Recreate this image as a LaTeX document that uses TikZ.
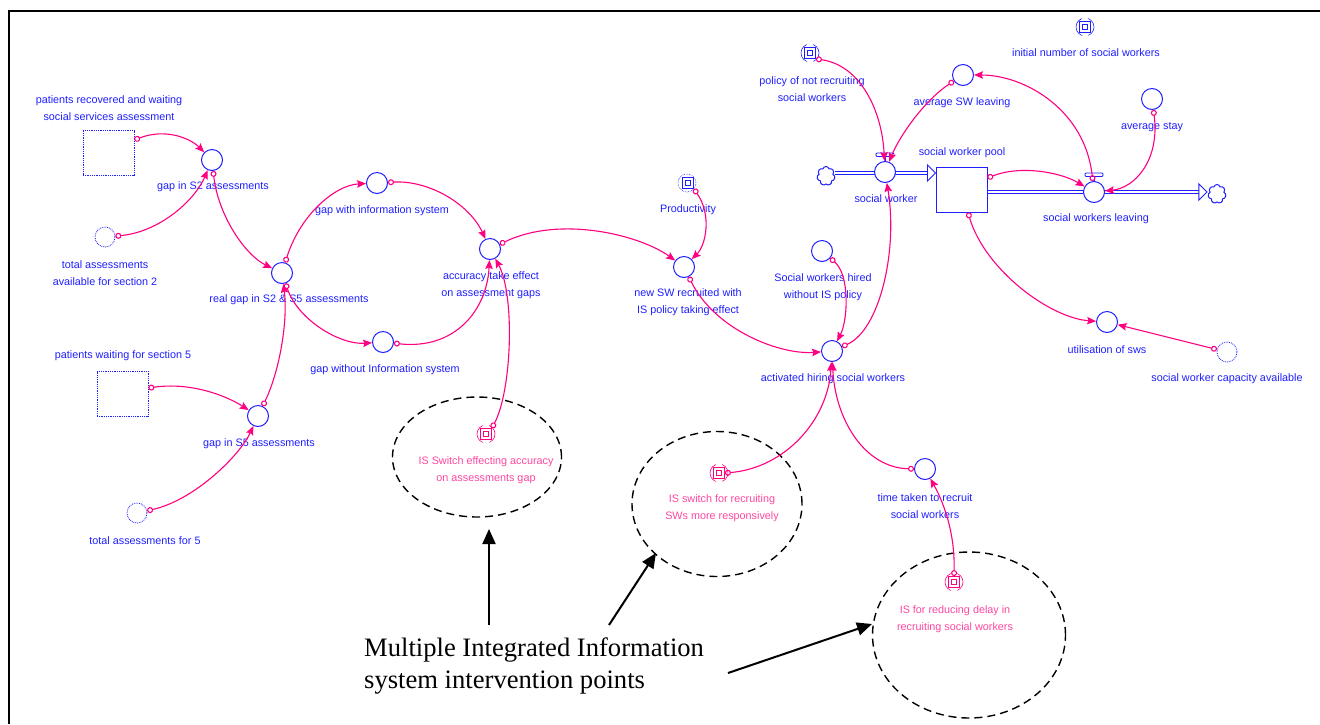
\documentclass[tikz,border=0pt]{standalone}
\usepackage{fontspec}
\setmainfont{Liberation Serif}
\newfontfamily\arialf{Liberation Sans}
\usetikzlibrary{arrows.meta,shapes.geometric,shapes.symbols,calc}
\definecolor{vblue}{RGB}{30,30,255}
\definecolor{vpink}{RGB}{255,0,128}
\definecolor{vpinktext}{RGB}{255,70,160}
\begin{document}
\begin{tikzpicture}[x=1pt,y=-1pt,
 aux/.style={circle,draw=vblue,line width=1pt,minimum size=21pt,inner sep=0pt,fill=white},
 ghostc/.style={circle,draw=vblue,densely dotted,line width=0.8pt,minimum size=20pt,inner sep=0pt},
 ghostr/.style={rectangle,draw=vblue,densely dotted,line width=0.8pt,inner sep=0pt},
 stockbox/.style={rectangle,draw=vblue,line width=1pt,inner sep=0pt,minimum width=51pt,minimum height=45pt,fill=white},
 lbl/.style={text=vblue,font=\arialf\fontsize{10.8}{17}\selectfont,align=center,inner sep=0pt},
 plbl/.style={lbl,text=vpinktext},
 conn/.style={draw=vpink,line width=1.1pt,arrows={Circle[open,length=6pt,width=6pt]-Stealth[length=9pt,width=7.5pt,inset=1.5pt]}},
 icon/.style={rectangle,draw=#1,line width=0.9pt,minimum size=11pt,inner sep=0pt,fill=white,
   path picture={\draw[#1,line width=0.7pt] ([shift={(-2.5pt,-2.5pt)}]path picture bounding box.center) rectangle ([shift={(2.5pt,2.5pt)}]path picture bounding box.center);}},
 iconring/.style={circle,draw=#1,line width=0.6pt,minimum size=18pt,inner sep=0pt,dash pattern=on 22pt off 6.27pt,dash phase=11pt},
 pipe/.style={draw=vblue,double=white,double distance=2.2pt,line width=0.9pt},
 cloudn/.style={cloud,cloud puffs=7,aspect=1,draw=vblue,line width=1pt,minimum width=18pt,minimum height=19pt,inner sep=0pt,fill=white},
 isring/.style={ellipse,draw=black,line width=1.4pt,dash pattern=on 8pt off 5pt,inner sep=0pt},
 bigarrow/.style={draw=black,line width=2pt,arrows={-Triangle[length=15pt,width=13pt]}}
]
\useasboundingbox (0,0) rectangle (1320,724);
\draw[line width=2pt] (8.5,724) -- (8.5,10.5) -- (1320,10.5);

% ---------- dashed intervention rings ----------
\node[isring,minimum width=169pt,minimum height=120pt] (ringA) at (477,457) {};
\node[isring,minimum width=170pt,minimum height=145pt] (ringB) at (717,504) {};
\node[isring,minimum width=193pt,minimum height=166pt] (ringC) at (969,635) {};

% ---------- left part ----------
\node[ghostr,minimum width=51pt,minimum height=45pt] (prA) at (108.5,153) {};
\node[lbl] (lprA) at (109,108.5) {patients recovered and waiting\\social services assessment};
\node[aux] (gS2) at (212,160) {};
\node[lbl] (lgS2) at (213,187) {gap in S2 assessments};
\node[ghostc] (totAv2) at (105,237) {};
\node[lbl] (ltotAv2) at (105,273.5) {total assessments\\available for section 2};
\node[aux] (realgap) at (282,273) {};
\node[lbl] (lrealgap) at (289,300) {real gap in S2 \& S5 assessments};
\node[aux] (gapWith) at (377,183) {};
\node[lbl] (lgapWith) at (382,211) {gap with information system};
\node[aux] (gapWithout) at (383,342) {};
\node[lbl] (lgapWithout) at (385,370) {gap without Information system};
\node[aux] (accuracy) at (490,249) {};
\node[lbl] (laccuracy) at (491,285.5) {accuracy take effect\\on assessment gaps};
\node[ghostr,minimum width=51pt,minimum height=45pt] (pw5) at (122.5,393.5) {};
\node[lbl] (lpw5) at (123,356) {patients waiting for section 5};
\node[aux] (gS5) at (258,416) {};
\node[lbl] (lgS5) at (259,444) {gap in S5 assessments};
\node[ghostc] (tot5) at (137,513) {};
\node[lbl] (ltot5) at (145,541) {total assessments for 5};

% ---------- middle ----------
\node[iconring=vpink] (ISaccR) at (486,434) {};
\node[icon=vpink] (ISacc) at (486,434) {};
\node[plbl] (lISacc) at (486,470.5) {IS Switch effecting accuracy\\on assessments gap};
\node[iconring=vblue,densely dotted] (prodR) at (687,183) {};
\node[icon=vblue] (prod) at (688,183) {};
\node[lbl] (lprod) at (688,210) {Productivity};
\node[aux] (newSW) at (684,267) {};
\node[lbl] (lnewSW) at (688,302.5) {new SW recruited with\\IS policy taking effect};
\node[aux] (swNoIS) at (822,251) {};
\node[lbl] (lswNoIS) at (823,287) {Social workers hired\\without IS policy};
\node[aux] (activated) at (832,351) {};
\node[lbl] (lactivated) at (833,379) {activated hiring social workers};
\node[iconring=vpink] (ISrecR) at (719,473) {};
\node[icon=vpink] (ISrec) at (719,473) {};
\node[plbl] (lISrec) at (722,508) {IS switch for recruiting\\SWs more responsively};
\node[aux] (timeTaken) at (925,469) {};
\node[lbl] (ltimeTaken) at (925,506.5) {time taken to recruit\\social workers};
\node[iconring=vpink] (ISdelR) at (954,582) {};
\node[icon=vpink] (ISdel) at (954,582) {};
\node[plbl] (lISdel) at (955,619) {IS for reducing delay in\\recruiting social workers};

% ---------- right: stock and flows ----------
\node[iconring=vblue] (policyR) at (810,53) {};
\node[icon=vblue] (policy) at (810,53) {};
\node[lbl] (lpolicy) at (812,89.5) {policy of not recruiting\\social workers};
\node[iconring=vblue] (initialR) at (1085,27) {};
\node[icon=vblue] (initial) at (1085,27) {};
\node[lbl] (linitial) at (1086,53) {initial number of social workers};
\node[stockbox] (stock) at (961.5,189.5) {};
\node[lbl] (lstock) at (962,153) {social worker pool};
\node[cloudn] (srcCloud) at (826,176) {};
\node[cloudn] (sinkCloud) at (1217,194) {};

\draw[pipe] (srcCloud.east |- 0,173) -- ($(stock.west |- 0,173)+(-8,0)$);
\draw[draw=vblue,line width=0.9pt,fill=white,line join=miter] ($(stock.west |- 0,173)+(-8,-8)$) -- (stock.west |- 0,173) -- ($(stock.west |- 0,173)+(-8,8)$) -- cycle;
\draw[pipe] (stock.east |- 0,192) -- ($(sinkCloud.west |- 0,192)+(-9,0)$);
\draw[draw=vblue,line width=0.9pt,fill=white,line join=miter] ($(sinkCloud.west |- 0,192)+(-9,-8)$) -- ($(sinkCloud.west |- 0,192)+(-1,0)$) -- ($(sinkCloud.west |- 0,192)+(-9,8)$) -- cycle;

\node[aux] (swValve) at (885,172) {};
\node[lbl] (lswValve) at (886,199) {social worker};
\draw[draw=vblue,line width=0.9pt] (swValve.north) -- ++(0,-5);
\draw[draw=vblue,line width=0.9pt,fill=white,rounded corners=1pt] ($(swValve.north)+(-9,-8)$) rectangle ($(swValve.north)+(9,-4.5)$);
\node[aux] (swLeaving) at (1094,192) {};
\node[lbl] (lswLeaving) at (1096,219) {social workers leaving};
\draw[draw=vblue,line width=0.9pt] (swLeaving.north) -- ++(0,-5);
\draw[draw=vblue,line width=0.9pt,fill=white,rounded corners=1pt] ($(swLeaving.north)+(-9,-8)$) rectangle ($(swLeaving.north)+(9,-4.5)$);

\node[aux] (avgSW) at (963,75) {};
\node[lbl] (lavgSW) at (962,103) {average SW leaving};
\node[aux] (avgStay) at (1152,99) {};
\node[lbl] (lavgStay) at (1152,127) {average stay};
\node[aux] (util) at (1107,322) {};
\node[lbl] (lutil) at (1107,350) {utilisation of sws};
\node[ghostc] (capAvail) at (1227,352) {};
\node[lbl] (lcapAvail) at (1227,379) {social worker capacity available};

% ---------- connectors ----------
\draw[conn] ([yshift=13pt]prA.east) .. controls (165,128) and (190,138) .. (gS2);
\draw[conn] (totAv2) .. controls (160,232) and (195,200) .. (gS2);
\draw[conn] (gS2) .. controls (218,215) and (245,255) .. (realgap);
\draw[conn] (realgap) .. controls (300,215) and (335,185) .. (gapWith);
\draw[conn] (realgap) .. controls (298,320) and (340,345) .. (gapWithout);
\draw[conn] (gS5) .. controls (280,370) and (288,320) .. (realgap);
\draw[conn] (gapWith) .. controls (430,180) and (470,205) .. (accuracy);
\draw[conn] (gapWithout) .. controls (455,350) and (487,310) .. (accuracy);
\draw[conn] (accuracy) .. controls (560,215) and (640,235) .. (newSW);
\draw[conn] ([yshift=5.5pt]pw5.east) .. controls (190,382) and (225,395) .. (gS5);
\draw[conn] (tot5) .. controls (195,500) and (240,455) .. (gS5);
\draw[conn] (ISacc.north east) .. controls (512,390) and (515,295) .. (accuracy);
\draw[conn] (prod.south east) .. controls (712,215) and (706,245) .. (newSW);
\draw[conn] (newSW) .. controls (715,330) and (780,355) .. (activated);
\draw[conn] (swNoIS) .. controls (850,275) and (848,320) .. (activated);
\draw[conn] (activated) .. controls (880,330) and (898,250) .. (swValve);
\draw[conn] (ISrec.east) .. controls (785,468) and (828,420) .. (activated);
\draw[conn] (timeTaken) .. controls (865,468) and (835,420) .. (activated);
\draw[conn] (ISdel.north) .. controls (955,535) and (945,505) .. (timeTaken);
\draw[conn] (policy.south east) .. controls (860,65) and (882,110) .. (swValve);
\draw[conn] (avgSW) .. controls (925,100) and (900,135) .. (swValve);
\draw[conn] (swLeaving) .. controls (1085,110) and (1025,75) .. (avgSW);
\draw[conn] ([yshift=11.5pt]stock.east) .. controls (1020,165) and (1060,172) .. (swLeaving);
\draw[conn] (avgStay) .. controls (1160,160) and (1135,188) .. (swLeaving);
\draw[conn] ([xshift=6.5pt]stock.south) .. controls (985,270) and (1050,318) .. (util);
\draw[conn] (capAvail) -- (util);

% ---------- annotation ----------
\node[anchor=west,align=left,inner sep=0pt,font=\fontsize{26.6}{32}\selectfont] (note) at (364,666) {Multiple Integrated Information\\system intervention points};
\coordinate (tA) at (489,625);
\coordinate (hA) at (489,529);
\coordinate (tB) at (609,625);
\coordinate (hB) at (656,553);
\coordinate (tC) at (728,673);
\coordinate (hC) at (872,624);
\draw[bigarrow] (tA) -- (hA);
\draw[bigarrow] (tB) -- (hB);
\draw[bigarrow] (tC) -- (hC);
\end{tikzpicture}
\end{document}
